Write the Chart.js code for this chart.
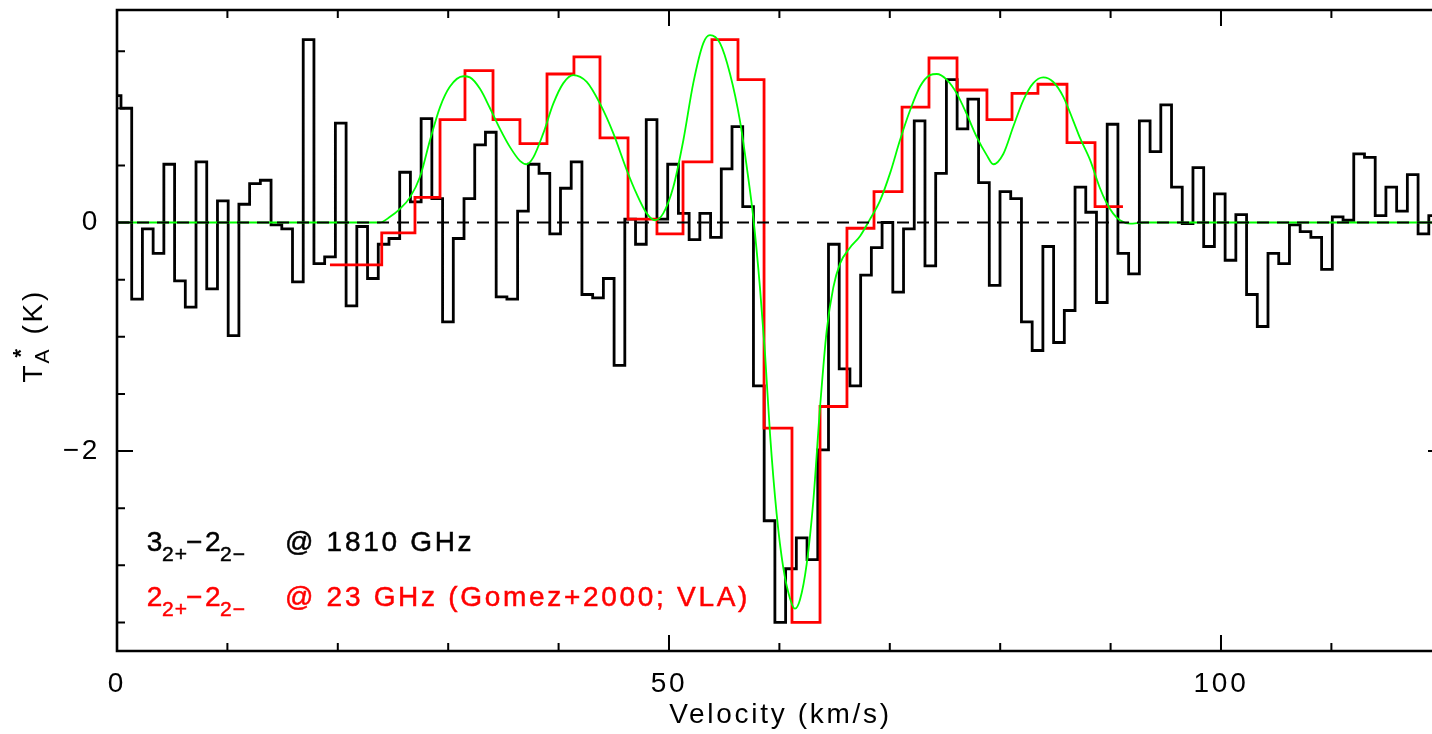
<!DOCTYPE html>
<html><head><meta charset="utf-8">
<script src="https://cdn.jsdelivr.net/npm/chart.js@4.4.1/dist/chart.umd.min.js"></script>
<style>
html,body{margin:0;padding:0;background:#fff;overflow:hidden;width:1432px;height:734px}
#wrap{position:absolute;left:0;top:0;width:1460px;height:734px}
canvas{display:block}
</style></head><body>
<div id="wrap"><canvas id="c" width="1460" height="734"></canvas></div>
<script>
// ---------------- data ----------------
// black: 3(2+)-2(2-) @ 1810 GHz, channels of constant width (km/s)
const blackStart = -0.61;
const blackWidth = 0.971;
const blackValues = [
  1.11, 1.00, -0.67, -0.055, -0.27, 0.51, -0.51, -0.74, 0.53, -0.58,
  0.19, -0.99, 0.16, 0.34, 0.37, -0.02, -0.055, -0.52, 1.60, -0.36,
  -0.30, 0.87, -0.73, -0.035, -0.49, -0.19, -0.14, 0.44, 0.18, 0.91,
  0.21, -0.87, -0.14, 0.21, 0.68, 0.79, -0.65, -0.67, 0.10, 0.51,
  0.43, -0.10, 0.30, 0.53, -0.63, -0.66, -0.49, -1.25, 0.03, -0.19,
  0.90, 0.03, 0.51, 0.08, -0.15, 0.08, -0.13, 0.47, 0.84, 0.14,
  -1.43, -2.61, -3.50, -3.03, -2.76, -2.95, -1.99, -0.19, -1.28, -1.43,
  -0.46, -0.22, 0.00, -0.61, -0.055, 0.89, -0.38, 0.43, 1.25, 0.82,
  1.08, 0.35, -0.55, 0.27, 0.21, -0.87, -1.12, -0.21, -1.05, -0.77,
  0.31, 0.09, -0.70, 0.86, -0.27, -0.45, 0.89, 0.62, 1.03, 0.31,
  -0.01, 0.48, -0.21, 0.25, -0.33, 0.07, -0.63, -0.91, -0.27, -0.36,
  -0.02, -0.08, -0.13, -0.41, 0.05, 0.02, 0.60, 0.57, 0.06, 0.31,
  0.10, 0.42, -0.10, 0.06
];
// red: 2(2+)-2(2-) @ 23 GHz (Gomez+2000; VLA), bin edges (km/s) and values (K)
const redEdges = [
  19.29, 23.98, 26.99, 29.26, 31.52, 34.06, 36.50, 38.95, 41.39, 43.75,
  46.29, 48.91, 51.27, 53.89, 56.25, 58.61, 61.14, 63.68, 66.12, 68.57,
  71.11, 73.55, 76.09, 78.80, 81.07, 83.42, 86.05, 88.59, 91.12
];
const redValues = [
  -0.37, -0.09, 0.22, 0.90, 1.33, 0.90, 0.69, 1.30, 1.45, 0.74,
  0.03, -0.10, 0.53, 1.60, 1.25, -1.80, -3.50, -1.61, -0.05, 0.27,
  1.01, 1.44, 1.16, 0.90, 1.13, 1.21, 0.70, 0.14
];
// green: fitted profile, sampled along the curve
const greenV = [
  0, 10, 20, 22.9, 23.82, 24.73, 25.63, 26.54, 27.45, 28.35,
  29.26, 30.16, 31.37, 31.97, 32.88, 33.79, 34.69, 35.60, 36.50, 37.11,
  37.71, 38.61, 39.52, 40.43, 41.33, 42.55, 43.75, 44.96, 46.17, 47.07,
  47.98, 48.73, 49.48, 50.39, 51.30, 52.20, 53.11, 53.71, 54.62, 55.53,
  56.43, 57.04, 57.64, 58.24, 58.70, 59.15, 59.75, 60.35, 60.96, 61.41,
  61.87, 62.47, 63.07, 63.68, 64.28, 64.88, 65.49, 66.39, 67.30, 68.21,
  69.11, 70.02, 70.92, 71.83, 72.74, 73.64, 74.25, 75.15, 76.06, 76.96,
  77.87, 78.78, 79.38, 80.28, 81.19, 82.09, 83.00, 83.90, 84.81, 85.72,
  86.62, 87.23, 88.13, 89.04, 89.59, 90.22, 90.85, 91.76, 93.0, 100, 110, 120.2
];
const greenT = [
  0, 0, 0, 0.0, 0.0, 0.05, 0.12, 0.22, 0.40, 0.72,
  1.01, 1.19, 1.28, 1.27, 1.17, 1.00, 0.82, 0.66, 0.54, 0.51,
  0.57, 0.78, 1.04, 1.22, 1.29, 1.23, 1.04, 0.78, 0.46, 0.25,
  0.08, 0.02, 0.08, 0.31, 0.72, 1.22, 1.57, 1.64, 1.57, 1.30,
  0.89, 0.49, 0.04, -0.57, -1.15, -1.85, -2.55, -3.02, -3.29, -3.38,
  -3.30, -2.99, -2.44, -1.62, -0.95, -0.57, -0.36, -0.22, -0.12, 0.03,
  0.19, 0.43, 0.72, 0.98, 1.19, 1.29, 1.30, 1.25, 1.13, 0.95,
  0.75, 0.59, 0.51, 0.60, 0.84, 1.07, 1.22, 1.27, 1.23, 1.10,
  0.89, 0.74, 0.55, 0.30, 0.18, 0.08, 0.02, -0.01, 0, 0, 0, 0
];
// axes
const xRange = [0, 120.2];
const yRange = [-3.75, 1.86];
const xTickLabels = [0, 50, 100];
const yTickLabels = [0, -2];
const xMinorStep = 10;
const yMinorStep = 0.5;
const xTitle = 'Velocity (km/s)';
const legendBlack = ['3', '2+', '−', '2', '2−', '@ 1810 GHz'];
const legendRed = ['2', '2+', '−', '2', '2−', '@ 23 GHz (Gomez+2000; VLA)'];

// ---------------- build datasets ----------------
const blackPts = blackValues.map((v, i) => ({x: blackStart + i * blackWidth, y: v}));
blackPts.push({x: blackStart + blackValues.length * blackWidth, y: blackValues[blackValues.length - 1]});
const redPts = redValues.map((v, i) => ({x: redEdges[i], y: v}));
redPts.push({x: redEdges[redEdges.length - 1], y: redValues[redValues.length - 1]});
const greenPts = greenV.map((v, i) => ({x: v, y: greenT[i]}));
const zeroPts = [{x: xRange[0], y: 0}, {x: xRange[1], y: 0}];

const FONT = '"Liberation Sans", Arial, Helvetica, sans-serif';
const LS = '2.7px';

const framePlugin = {
  id: 'frame',
  beforeDraw(chart) { chart.ctx.letterSpacing = LS; },
  afterDraw(chart) {
    const {ctx, chartArea: a, scales} = chart;
    const xs = scales.x, ys = scales.y;
    ctx.save();
    ctx.strokeStyle = '#000';
    ctx.lineWidth = 2.6;
    ctx.beginPath();
    ctx.rect(a.left, a.top, a.right - a.left, a.bottom - a.top);
    ctx.stroke();
    ctx.lineWidth = 2;
    ctx.beginPath();
    for (let v = xRange[0]; v <= xRange[1] + 1e-9; v += xMinorStep) {
      const px = xs.getPixelForValue(v);
      const len = (Math.abs(v % 50) < 1e-6) ? 16 : 8;
      ctx.moveTo(px, a.bottom); ctx.lineTo(px, a.bottom - len);
      ctx.moveTo(px, a.top); ctx.lineTo(px, a.top + len);
    }
    for (let v = -3.5; v <= yRange[1] + 1e-9; v += yMinorStep) {
      const py = ys.getPixelForValue(v);
      const len = (Math.abs(v % 2) < 1e-6) ? 16 : 8;
      ctx.moveTo(a.left, py); ctx.lineTo(a.left + len, py);
      ctx.moveTo(a.right, py); ctx.lineTo(a.right - len, py);
    }
    ctx.stroke();

    // legend lines
    const big = '28px ' + FONT, small = '21px ' + FONT;
    const xs0 = [146.7, 162, 186, 205, 220, 285];
    const sub = [false, true, false, false, true, false];
    function line(parts, color, base) {
      ctx.fillStyle = color;
      ctx.strokeStyle = color;
      ctx.lineWidth = 0.5;
      ctx.textBaseline = 'alphabetic';
      ctx.textAlign = 'left';
      parts.forEach((p, i) => {
        ctx.font = sub[i] ? small : big;
        ctx.letterSpacing = sub[i] ? '1px' : LS;
        ctx.fillText(p, xs0[i], base + (sub[i] ? 10 : 0));
        ctx.strokeText(p, xs0[i], base + (sub[i] ? 10 : 0));
      });
      ctx.letterSpacing = LS;
    }
    line(legendBlack, '#000', 551);
    line(legendRed, '#ff0000', 606);

    // y axis title  T_A^* (K)
    ctx.translate(42, (a.top + a.bottom) / 2);
    ctx.rotate(-Math.PI / 2);
    ctx.fillStyle = '#000';
    ctx.font = big;
    ctx.fillText('T', -52, 0);
    ctx.font = small;
    ctx.fillText('A', -33, 7);
    ctx.font = 'bold 22px ' + FONT;
    ctx.fillText('*', -27, -14);
    ctx.font = big;
    ctx.fillText('(K)', -4, 0);
    ctx.restore();
  }
};

new Chart(document.getElementById('c'), {
  type: 'line',
  data: {
    datasets: [
      {data: zeroPts, borderColor: '#000', borderWidth: 2, borderDash: [12, 8], pointRadius: 0, order: 0},
      {data: greenPts, borderColor: '#00ff00', borderWidth: 1.8, pointRadius: 0, tension: 0.4, cubicInterpolationMode: 'monotone', order: 1},
      {data: redPts, borderColor: '#ff0000', borderWidth: 2.8, pointRadius: 0, stepped: true, order: 2},
      {data: blackPts, borderColor: '#000', borderWidth: 2.8, pointRadius: 0, stepped: true, order: 3}
    ]
  },
  options: {
    responsive: false,
    animation: false,
    devicePixelRatio: 1,
    layout: {padding: {left: 0, right: 16, top: 10, bottom: 0}},
    plugins: {legend: {display: false}, tooltip: {enabled: false}},
    scales: {
      x: {
        type: 'linear', min: xRange[0], max: xRange[1],
        grid: {display: false, drawTicks: false, tickLength: 0},
        border: {display: false},
        afterBuildTicks: s => { s.ticks = xTickLabels.map(v => ({value: v})); },
        afterFit: s => { s.height = 83; s.paddingLeft = 0; s.paddingRight = 0; s.paddingTop = 0; s.paddingBottom = 0; },
        ticks: {color: '#000', font: {family: FONT, size: 28, lineHeight: 1.2}, padding: 16, maxRotation: 0, autoSkip: false,
          callback: v => String(v)},
        title: {display: true, text: xTitle, color: '#000', font: {family: FONT, size: 28, lineHeight: 1.2}, padding: {top: 0, bottom: 2}}
      },
      y: {
        type: 'linear', min: yRange[0], max: yRange[1],
        grid: {display: false, drawTicks: false, tickLength: 0},
        border: {display: false},
        afterBuildTicks: s => { s.ticks = yTickLabels.map(v => ({value: v})); },
        afterFit: s => { s.width = 117; s.paddingLeft = 0; s.paddingRight = 0; s.paddingTop = 0; s.paddingBottom = 0; },
        ticks: {color: '#000', font: {family: FONT, size: 28, lineHeight: 1.2}, padding: 17, autoSkip: false,
          callback: v => (v < 0 ? '−' + Math.abs(v) : String(v))}
      }
    }
  },
  plugins: [framePlugin]
});
</script>
</body></html>
